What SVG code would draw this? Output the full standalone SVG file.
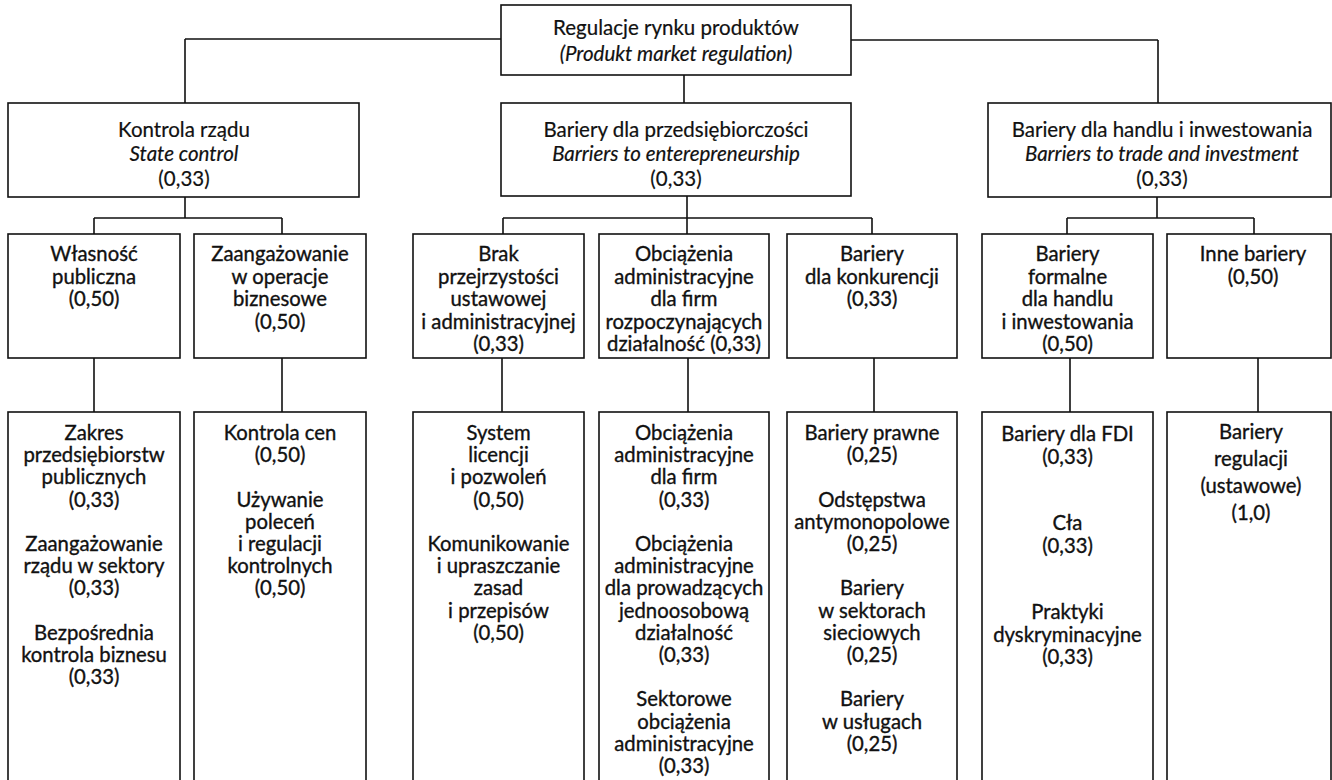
<svg xmlns="http://www.w3.org/2000/svg" width="1332" height="780" viewBox="0 0 1332 780">
<style>
.bg{fill:#fff}
.box{fill:#fff;stroke:#111;stroke-width:1.6}
.con{fill:none;stroke:#111;stroke-width:1.6}
.t{font-family:Lato,"Liberation Sans",sans-serif;font-size:20.3px;text-anchor:middle;fill:#111;stroke:#111;stroke-width:0.35}
.t2{font-size:20.5px;stroke-width:0.2}
.t3{font-size:20.3px}
.i{font-style:italic}
</style>
<rect class="bg" x="0" y="0" width="1332" height="780"/>
<g id="connectors">
<path class="con" d="M185,39H501M185,39V103M851,40H1158M1158,40V103M684,75V103"/>
<path class="con" d="M185,197V218M94,218H282M94,218V234M282,218V234"/>
<path class="con" d="M687,196V234M503,218H872M503,218V234M872,218V234"/>
<path class="con" d="M1157,197V218M1067,218H1254M1067,218V234M1254,218V234"/>
<path class="con" d="M94,358V412M282,358V412M502,358V412M688,358V412M874,358V412M1070,358V412M1258,358V412"/>
</g>
<g id="n-root">
<rect class="box" x="501" y="5" width="350" height="70"/>
<text class="t t2" x="676" y="35">Regulacje rynku produktów</text>
<text class="t t2 i" x="676" y="61">(Produkt market regulation)</text>
</g>
<g id="n-state">
<rect class="box" x="8" y="103" width="351" height="94"/>
<text class="t t2" x="184" y="137">Kontrola rządu</text>
<text class="t t2 i" x="184" y="161">State control</text>
<text class="t t2" x="184" y="186">(0,33)</text>
</g>
<g id="n-entre">
<rect class="box" x="501" y="103" width="350" height="93"/>
<text class="t t2" x="676" y="137">Bariery dla przedsiębiorczości</text>
<text class="t t2 i" x="676" y="161">Barriers to enterepreneurship</text>
<text class="t t2" x="676" y="186">(0,33)</text>
</g>
<g id="n-trade">
<rect class="box" x="988" y="103" width="343" height="94"/>
<text class="t t2" x="1162" y="137">Bariery dla handlu i inwestowania</text>
<text class="t t2 i" x="1162" y="161">Barriers to trade and investment</text>
<text class="t t2" x="1162" y="186">(0,33)</text>
</g>
<g id="n-wlasnosc">
<rect class="box" x="8" y="234" width="172" height="124"/>
<text class="t t3" x="94" y="261">Własność<tspan x="94" dy="22.5">publiczna</tspan><tspan x="94" dy="22.5">(0,50)</tspan></text>
</g>
<g id="n-zaang">
<rect class="box" x="194" y="234" width="172" height="124"/>
<text class="t t3" x="280" y="261">Zaangażowanie<tspan x="280" dy="22.5">w operacje</tspan><tspan x="280" dy="22.5">biznesowe</tspan><tspan x="280" dy="22.5">(0,50)</tspan></text>
</g>
<g id="n-brak">
<rect class="box" x="413" y="234" width="171" height="124"/>
<text class="t t3" x="498.5" y="261">Brak<tspan x="498.5" dy="22.5">przejrzystości</tspan><tspan x="498.5" dy="22.5">ustawowej</tspan><tspan x="498.5" dy="22.5">i administracyjnej</tspan><tspan x="498.5" dy="22.5">(0,33)</tspan></text>
</g>
<g id="n-obc">
<rect class="box" x="599" y="234" width="170" height="124"/>
<text class="t t3" x="684" y="261">Obciążenia<tspan x="684" dy="22.5">administracyjne</tspan><tspan x="684" dy="22.5">dla firm</tspan><tspan x="684" dy="22.5">rozpoczynających</tspan><tspan x="684" dy="22.5">działalność (0,33)</tspan></text>
</g>
<g id="n-konk">
<rect class="box" x="787" y="234" width="170" height="124"/>
<text class="t t3" x="872" y="261">Bariery<tspan x="872" dy="22.5">dla konkurencji</tspan><tspan x="872" dy="22.5">(0,33)</tspan></text>
</g>
<g id="n-formal">
<rect class="box" x="982" y="234" width="171" height="124"/>
<text class="t t3" x="1067.5" y="261">Bariery<tspan x="1067.5" dy="22.5">formalne</tspan><tspan x="1067.5" dy="22.5">dla handlu</tspan><tspan x="1067.5" dy="22.5">i inwestowania</tspan><tspan x="1067.5" dy="22.5">(0,50)</tspan></text>
</g>
<g id="n-inne">
<rect class="box" x="1167" y="234" width="164" height="124"/>
<text class="t t3" x="1253" y="261">Inne bariery<tspan x="1253" dy="22.5">(0,50)</tspan></text>
</g>
<g id="n-l4-1">
<rect class="box" x="8" y="412" width="172" height="390"/>
<text class="t" x="94" y="440">Zakres<tspan x="94" dy="22.2">przedsiębiorstw</tspan><tspan x="94" dy="22.2">publicznych</tspan><tspan x="94" dy="22.2">(0,33)</tspan><tspan x="94" dy="44.4">Zaangażowanie</tspan><tspan x="94" dy="22.2">rządu w sektory</tspan><tspan x="94" dy="22.2">(0,33)</tspan><tspan x="94" dy="44.4">Bezpośrednia</tspan><tspan x="94" dy="22.2">kontrola biznesu</tspan><tspan x="94" dy="22.2">(0,33)</tspan></text>
</g>
<g id="n-l4-2">
<rect class="box" x="194" y="412" width="172" height="390"/>
<text class="t" x="280" y="440">Kontrola cen<tspan x="280" dy="22.2">(0,50)</tspan><tspan x="280" dy="44.4">Używanie</tspan><tspan x="280" dy="22.2">poleceń</tspan><tspan x="280" dy="22.2">i regulacji</tspan><tspan x="280" dy="22.2">kontrolnych</tspan><tspan x="280" dy="22.2">(0,50)</tspan></text>
</g>
<g id="n-l4-3">
<rect class="box" x="413" y="412" width="171" height="390"/>
<text class="t" x="498.5" y="440">System<tspan x="498.5" dy="22.2">licencji</tspan><tspan x="498.5" dy="22.2">i pozwoleń</tspan><tspan x="498.5" dy="22.2">(0,50)</tspan><tspan x="498.5" dy="44.4">Komunikowanie</tspan><tspan x="498.5" dy="22.2">i upraszczanie</tspan><tspan x="498.5" dy="22.2">zasad</tspan><tspan x="498.5" dy="22.2">i przepisów</tspan><tspan x="498.5" dy="22.2">(0,50)</tspan></text>
</g>
<g id="n-l4-4">
<rect class="box" x="599" y="412" width="170" height="390"/>
<text class="t" x="684" y="440">Obciążenia<tspan x="684" dy="22.2">administracyjne</tspan><tspan x="684" dy="22.2">dla firm</tspan><tspan x="684" dy="22.2">(0,33)</tspan><tspan x="684" dy="44.4">Obciążenia</tspan><tspan x="684" dy="22.2">administracyjne</tspan><tspan x="684" dy="22.2">dla prowadzących</tspan><tspan x="684" dy="22.2">jednoosobową</tspan><tspan x="684" dy="22.2">działalność</tspan><tspan x="684" dy="22.2">(0,33)</tspan><tspan x="684" dy="44.4">Sektorowe</tspan><tspan x="684" dy="22.2">obciążenia</tspan><tspan x="684" dy="22.2">administracyjne</tspan><tspan x="684" dy="22.2">(0,33)</tspan></text>
</g>
<g id="n-l4-5">
<rect class="box" x="787" y="412" width="170" height="390"/>
<text class="t" x="872" y="440">Bariery prawne<tspan x="872" dy="22.2">(0,25)</tspan><tspan x="872" dy="44.4">Odstępstwa</tspan><tspan x="872" dy="22.2">antymonopolowe</tspan><tspan x="872" dy="22.2">(0,25)</tspan><tspan x="872" dy="44.4">Bariery</tspan><tspan x="872" dy="22.2">w sektorach</tspan><tspan x="872" dy="22.2">sieciowych</tspan><tspan x="872" dy="22.2">(0,25)</tspan><tspan x="872" dy="44.4">Bariery</tspan><tspan x="872" dy="22.2">w usługach</tspan><tspan x="872" dy="22.2">(0,25)</tspan></text>
</g>
<g id="n-l4-6">
<rect class="box" x="982" y="412" width="171" height="390"/>
<text class="t" x="1067.5" y="441">Bariery dla FDI<tspan x="1067.5" dy="23">(0,33)</tspan><tspan x="1067.5" dy="66">Cła</tspan><tspan x="1067.5" dy="23">(0,33)</tspan><tspan x="1067.5" dy="66">Praktyki</tspan><tspan x="1067.5" dy="22.5">dyskryminacyjne</tspan><tspan x="1067.5" dy="22.5">(0,33)</tspan></text>
</g>
<g id="n-l4-7">
<rect class="box" x="1167" y="412" width="164" height="390"/>
<text class="t" x="1251" y="439">Bariery<tspan x="1251" dy="27">regulacji</tspan><tspan x="1251" dy="27">(ustawowe)</tspan><tspan x="1251" dy="27">(1,0)</tspan></text>
</g>
</svg>
